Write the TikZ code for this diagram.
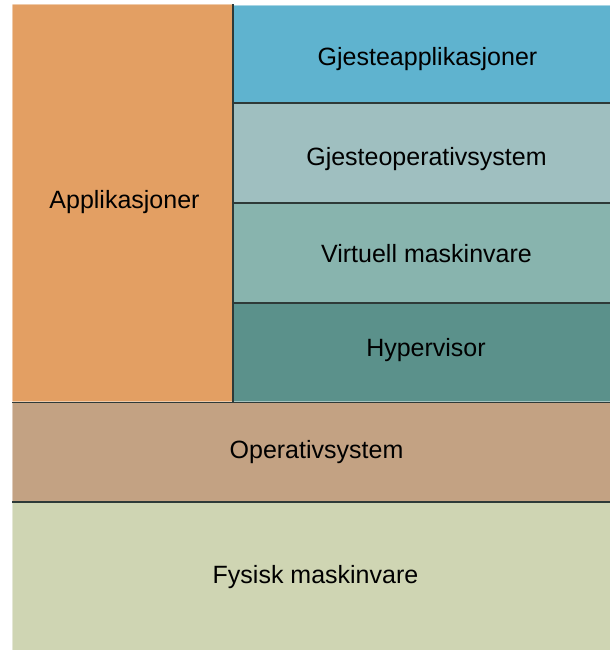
\documentclass[tikz,border=0pt]{standalone}
\usepackage{fontspec}
\setmainfont{Liberation Sans}
\definecolor{appcol}{HTML}{E39F63}
\definecolor{guestappcol}{HTML}{5FB3CF}
\definecolor{guestoscol}{HTML}{9FBFC0}
\definecolor{vhwcol}{HTML}{88B4AE}
\definecolor{hypercol}{HTML}{5B918B}
\definecolor{hostoscol}{HTML}{C3A283}
\definecolor{physcol}{HTML}{CFD5B3}
\definecolor{shade}{HTML}{2E3A38}
\tikzset{
  layer/.style={rectangle, inner sep=0pt, outer sep=0pt},
  caption/.style={anchor=base, inner sep=0pt, text=black,
    font=\fontsize{25}{29}\selectfont},
  shadeline/.style={draw=shade, line width=1.6pt},
  lightline/.style={draw=white, opacity=0.45, line width=1.2pt}
}
\begin{document}
\begin{tikzpicture}[x=1pt,y=1pt]
  \useasboundingbox (0,0) rectangle (610,-650);
  \fill[white] (0,0) rectangle (610,-650);
  % left column and the guest stack
  \node[layer, fill=appcol, minimum width=221pt, minimum height=398pt] (apps) at (122.5,-203.5) {};
  \node[layer, fill=guestappcol, minimum width=377pt, minimum height=98pt] (gapps) at (421.5,-54) {};
  \node[layer, fill=guestoscol, minimum width=377pt, minimum height=100pt] (gos) at (421.5,-153) {};
  \node[layer, fill=vhwcol, minimum width=377pt, minimum height=100pt] (vhw) at (421.5,-253) {};
  \node[layer, fill=hypercol, minimum width=377pt, minimum height=100pt] (hyp) at (421.5,-352.5) {};
  % host layers
  \node[layer, fill=hostoscol, minimum width=598pt, minimum height=100pt] (hos) at (311,-452) {};
  \node[layer, fill=physcol, minimum width=598pt, minimum height=148pt] (phys) at (311,-576) {};
  % bevel highlights
  \foreach \n in {apps,gapps,gos,vhw,hyp,hos,phys}{
    \draw[lightline] (\n.north west) -- (\n.north east);
    \draw[lightline] (\n.north west) -- (\n.south west);
  }
  % dark edges between layers
  \draw[shadeline] (apps.north east) -- (apps.south east);
  \foreach \n in {gapps,gos,vhw,hyp}{
    \draw[shadeline] (\n.south west) -- (\n.south east);
  }
  \draw[shadeline] (apps.south west) -- (apps.south east);
  \draw[shadeline] (hos.south west) -- (hos.south east);
  % layer captions
  \node[caption] (appsT)  at (124.5,-208) {Applikasjoner};
  \node[caption] (gappsT) at (427.5,-66)  {Gjesteapplikasjoner};
  \node[caption] (gosT)   at (426.5,-165) {Gjesteoperativsystem};
  \node[caption] (vhwT)   at (426.5,-262) {Virtuell maskinvare};
  \node[caption] (hypT)   at (426,-356)   {Hypervisor};
  \node[caption] (hosT)   at (316.5,-458) {Operativsystem};
  \node[caption] (physT)  at (315.5,-583) {Fysisk maskinvare};
\end{tikzpicture}
\end{document}
